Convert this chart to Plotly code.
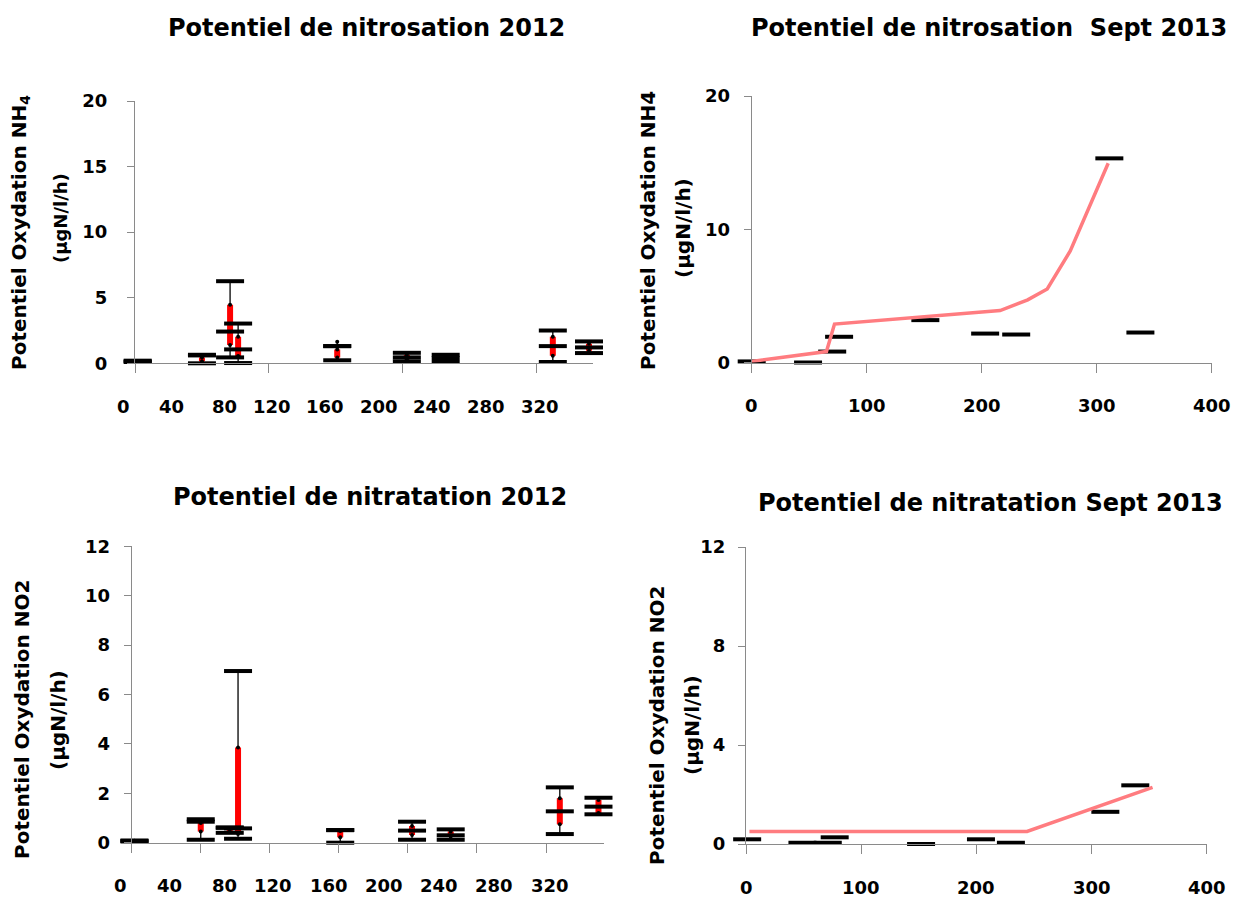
import plotly.graph_objects as go

# ---------------- DATA ----------------
# Top-left: Potentiel de nitrosation 2012 (box-like summaries)
tl_x = [2, 50, 71, 77, 151, 203, 232, 312, 339]
tl_min = [0.10, 0.00, 0.45, 0.02, 0.23, 0.15, 0.10, 0.10, 0.78]
tl_q1 = [0.12, 0.15, 1.39, 0.55, 0.45, 0.30, 0.25, 0.58, 0.95]
tl_med = [0.15, 0.60, 2.42, 1.06, 1.31, 0.45, 0.40, 1.31, 1.21]
tl_q3 = [0.18, 0.45, 4.47, 2.02, 1.06, 0.65, 0.55, 2.02, 1.50]
tl_max = [0.20, 0.65, 6.26, 3.03, 1.31, 0.80, 0.65, 2.50, 1.67]
tl_top_dot = [None, None, None, None, 1.64, None, None, None, None]

# Bottom-left: Potentiel de nitratation 2012
bl_x = [2, 50, 71, 77, 151, 203, 231, 310, 338]
bl_min = [0.05, 0.12, 0.40, 0.16, 0.00, 0.12, 0.12, 0.35, 1.15]
bl_q1 = [0.06, 0.45, 0.45, 0.35, 0.22, 0.31, 0.25, 0.75, 1.20]
bl_med = [0.07, 0.85, 0.60, 0.58, 0.51, 0.49, 0.30, 1.27, 1.46]
bl_q3 = [0.08, 0.80, 0.58, 3.85, 0.47, 0.68, 0.45, 1.80, 1.73]
bl_max = [0.09, 0.95, 0.62, 6.95, 0.51, 0.85, 0.54, 2.24, 1.82]
bl_top_dot = [None] * 9

# Top-right: Potentiel de nitrosation Sept 2013
tr_line_x = [0, 65, 72, 216, 240, 257, 277, 310]
tr_line_y = [0.08, 0.82, 2.88, 3.90, 4.70, 5.52, 8.37, 14.95]
tr_pts_x = [0, 49, 70, 76, 151, 203, 230, 311, 338]
tr_pts_y = [0.08, 0.00, 0.82, 1.93, 3.18, 2.17, 2.10, 15.32, 2.25]

# Bottom-right: Potentiel de nitratation Sept 2013
br_line_x = [3, 244, 353]
br_line_y = [0.51, 0.51, 2.29]
br_pts_x = [1, 49, 71, 77, 152, 204, 230, 312, 338]
br_pts_y = [0.19, 0.05, 0.05, 0.27, 0.00, 0.19, 0.05, 1.30, 2.37]

left_xticks = [0, 40, 80, 120, 160, 200, 240, 280, 320]
right_xticks = [0, 100, 200, 300, 400]
tl_yticks = [0, 5, 10, 15, 20]
tr_yticks = [0, 10, 20]
bl_yticks = [0, 2, 4, 6, 8, 10, 12]
br_yticks = [0, 4, 8, 12]

titles = ["Potentiel de nitrosation 2012",
          "Potentiel de nitrosation\u00a0 Sept 2013",
          "Potentiel de nitratation 2012",
          "Potentiel de nitratation Sept 2013"]
ylab_nh4 = "Potentiel Oxydation NH<sub>4</sub>"
ylab_nh4b = "Potentiel Oxydation NH4"
ylab_no2 = "Potentiel Oxydation NO2"
ylab_unit = "(µgN/l/h)"

# ---------------- STYLE ----------------
FONT = "DejaVu Sans"
AX = "#8a8a8a"
W, H = 1236, 902

fig = go.Figure()


def seg(xs, lo, hi):
    X, Y = [], []
    for x, a, b in zip(xs, lo, hi):
        X += [x, x, None]
        Y += [a, b, None]
    return X, Y


def add_boxes(xs, vmin, q1, med, q3, vmax, top_dot, xa, ya):
    top = [max(m, d) if d is not None else m for m, d in zip(vmax, top_dot)]
    wx, wy = seg(xs, vmin, top)
    fig.add_trace(go.Scatter(x=wx, y=wy, mode="lines", xaxis=xa, yaxis=ya,
                             line=dict(color="black", width=1.3),
                             showlegend=False, hoverinfo="skip"))
    bx, by = seg(xs, q1, q3)
    fig.add_trace(go.Scatter(x=bx, y=by, mode="lines", xaxis=xa, yaxis=ya,
                             line=dict(color="#ff0000", width=6),
                             showlegend=False, hoverinfo="skip"))
    dx = list(xs) * 3
    dy = list(q1) + list(q3) + list(top_dot)
    fig.add_trace(go.Scatter(x=dx, y=dy, mode="markers", xaxis=xa, yaxis=ya,
                             marker=dict(color="black", size=4),
                             showlegend=False, hoverinfo="skip"))
    cx = list(xs) * 3
    cy = list(vmin) + list(med) + list(vmax)
    fig.add_trace(go.Scatter(x=cx, y=cy, mode="markers", xaxis=xa, yaxis=ya,
                             cliponaxis=False,
                             marker=dict(symbol="line-ew", size=20,
                                         line=dict(color="black", width=4)),
                             showlegend=False, hoverinfo="skip"))


add_boxes(tl_x, tl_min, tl_q1, tl_med, tl_q3, tl_max, tl_top_dot, "x", "y")
add_boxes(bl_x, bl_min, bl_q1, bl_med, bl_q3, bl_max, bl_top_dot, "x3", "y3")

for lx, ly, px, py, xa, ya in [(tr_line_x, tr_line_y, tr_pts_x, tr_pts_y, "x2", "y2"),
                               (br_line_x, br_line_y, br_pts_x, br_pts_y, "x4", "y4")]:
    fig.add_trace(go.Scatter(x=px, y=py, mode="markers", xaxis=xa, yaxis=ya,
                             cliponaxis=False,
                             marker=dict(symbol="line-ew", size=20,
                                         line=dict(color="black", width=4)),
                             showlegend=False, hoverinfo="skip"))
    fig.add_trace(go.Scatter(x=lx, y=ly, mode="lines", xaxis=xa, yaxis=ya,
                             line=dict(color="#ff7c80", width=3.5),
                             showlegend=False, hoverinfo="skip"))


def px_dom_x(a, b):
    return [a / W, b / W]


def px_dom_y(bottom, top):
    return [1 - bottom / H, 1 - top / H]


tickfont = dict(family=FONT, size=18, color="black", weight="bold")


def xaxis(dom, rng, yanchor):
    return dict(domain=dom, range=rng, anchor=yanchor, showgrid=False, zeroline=False,
                showline=True, linecolor=AX, linewidth=1, ticks="outside",
                ticklen=9, tickcolor=AX, showticklabels=False, automargin=False,
                fixedrange=True)


def yaxis(dom, rng, xanchor, tv, standoff):
    return dict(domain=dom, range=rng, anchor=xanchor, showgrid=False, zeroline=False,
                showline=True, linecolor=AX, linewidth=1, ticks="outside",
                ticklen=7, tickcolor=AX, tickvals=tv, ticktext=[str(v) for v in tv],
                tickfont=tickfont, ticklabelstandoff=standoff, automargin=False,
                fixedrange=True)


fig.update_layout(
    width=W, height=H,
    margin=dict(l=0, r=0, t=0, b=0, pad=0, autoexpand=False),
    paper_bgcolor="white", plot_bgcolor="rgba(0,0,0,0)",
    showlegend=False,
    xaxis=xaxis(px_dom_x(135, 593), [0, 342], "y"),
    yaxis=yaxis(px_dom_y(363.3, 101), [0, 20], "x", tl_yticks, 16),
    xaxis2=xaxis(px_dom_x(751.7, 1211.7), [0, 400], "y2"),
    yaxis2=yaxis(px_dom_y(362.5, 96), [0, 20], "x2", tr_yticks, 10),
    xaxis3=xaxis(px_dom_x(131.7, 604), [0, 342], "y3"),
    yaxis3=yaxis(px_dom_y(842.7, 546.3), [0, 12], "x3", bl_yticks, 10),
    xaxis4=xaxis(px_dom_x(746, 1206.7), [0, 400], "y4"),
    yaxis4=yaxis(px_dom_y(844, 547), [0, 12], "x4", br_yticks, 9),
)

ann = []
# x tick labels (left panels: right-aligned just left of each tick; right panels: centered)
for xa, ya, ticks, anchor, shift in [("x", "y", left_xticks, "right", -3),
                                     ("x3", "y3", left_xticks, "right", -3),
                                     ("x2", "y2", right_xticks, "center", 0),
                                     ("x4", "y4", right_xticks, "center", 0)]:
    for v in ticks:
        ann.append(dict(x=v, y=0, xref=xa, yref=ya, text=str(v), showarrow=False,
                        xanchor=anchor, yanchor="middle", xshift=shift, yshift=-43,
                        font=tickfont))

# titles
for text, cx, cy in [(titles[0], 366, 28), (titles[1], 989, 28),
                     (titles[2], 370, 497), (titles[3], 990, 503)]:
    ann.append(dict(x=cx / W, y=1 - cy / H, xref="paper", yref="paper", text=text,
                    showarrow=False, xanchor="center", yanchor="middle",
                    font=dict(family=FONT, size=24, color="black", weight="bold")))

# y axis titles (two rotated lines)
for text, cx, cy, size in [(ylab_nh4, 20, 233, 20), (ylab_unit, 60, 218, 18),
                           (ylab_nh4b, 648, 231, 20), (ylab_unit, 683, 228, 20),
                           (ylab_no2, 22, 720, 20), (ylab_unit, 58, 720, 20),
                           (ylab_no2, 657, 726, 20), (ylab_unit, 692, 725, 20)]:
    ann.append(dict(x=cx / W, y=1 - cy / H, xref="paper", yref="paper", text=text,
                    showarrow=False, xanchor="center", yanchor="middle", textangle=-90,
                    font=dict(family=FONT, size=size, color="black", weight="bold")))

fig.update_layout(annotations=ann)
fig.write_html("out.html", config={"displayModeBar": False},
               post_script="document.body.style.margin='0px';document.body.style.padding='0px';document.body.style.overflow='hidden';")
